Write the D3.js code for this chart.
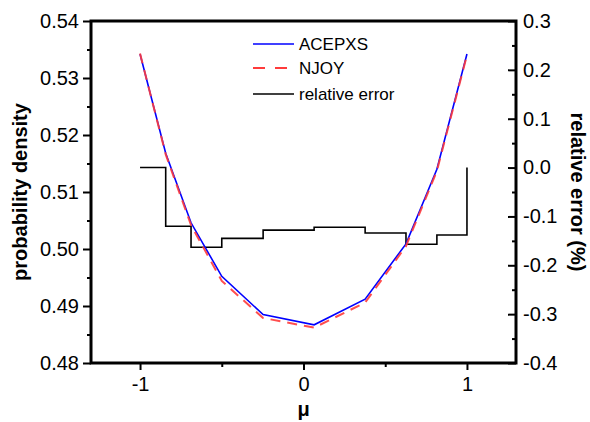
<!DOCTYPE html>
<html lang="en">
<head>
    <meta charset="UTF-8">
    <title>ACEPXS vs NJOY</title>
    <script src="https://d3js.org/d3.v7.min.js"></script>
    <style>
        body { margin: 0; background: #fff; }
        text { font-family: Arial, "Liberation Sans", sans-serif; }
        .axis text { font-size: 20px; fill: #000; }
        .axis path, .axis line { stroke: #000; }
        .title { font-size: 20px; font-weight: bold; }
        .legend { font-size: 17px; }
    </style>
</head>
<body>
<div id="fig"></div>
<script>
    // cosine nodes (mu)
    let mu = [-1, -0.843, -0.688, -0.5, -0.247, 0.065, 0.377, 0.627, 0.816, 1]
    let acepxs = [0.5342, 0.5168, 0.5046, 0.4952, 0.4885, 0.4867, 0.4912, 0.5009, 0.5140, 0.5342]
    let njoy = [0.5343, 0.5166, 0.5042, 0.4944, 0.4879, 0.4862, 0.4906, 0.5005, 0.5137, 0.5340]
    // relative error (%) for each step, last one closes at mu = 1
    let relErr = [0.0, -0.12, -0.163, -0.145, -0.128, -0.122, -0.134, -0.157, -0.138, 0.0]

    let xTicks = [-1, 0, 1]
    let xMinor = [-0.5, 0.5]
    let leftTicks = [0.48, 0.49, 0.50, 0.51, 0.52, 0.53, 0.54]
    let leftMinor = [0.485, 0.495, 0.505, 0.515, 0.525, 0.535]
    let rightTicks = [-0.4, -0.3, -0.2, -0.1, 0.0, 0.1, 0.2, 0.3]
    let rightMinor = [-0.35, -0.25, -0.15, -0.05, 0.05, 0.15, 0.25]

    let W = 590, H = 422
    let mLeft = 91, mRight = 516, mTop = 21, mBottom = 363

    let svg = d3.select("#fig").append("svg")
        .attr("width", W).attr("height", H)

    let x = d3.scaleLinear().domain([-1.3, 1.3]).range([mLeft, mRight])
    let yL = d3.scaleLinear().domain([0.48, 0.54]).range([mBottom, mTop])
    let yR = d3.scaleLinear().domain([-0.4, 0.3]).range([mBottom, mTop])

    // relative error steps
    let errLine = d3.line()
        .x((d, i) => x(mu[i]))
        .y(d => yR(d))
        .curve(d3.curveStepAfter)
    svg.append("path").datum(relErr)
        .attr("d", errLine)
        .attr("fill", "none").attr("stroke", "#000").attr("stroke-width", 1.6)

    let lineL = d3.line().x((d, i) => x(mu[i])).y(d => yL(d))

    svg.append("path").datum(acepxs)
        .attr("d", lineL)
        .attr("fill", "none").attr("stroke", "#0000ff").attr("stroke-width", 1.6)

    svg.append("path").datum(njoy)
        .attr("d", lineL)
        .attr("fill", "none").attr("stroke", "#ff3b3b").attr("stroke-width", 2)
        .attr("stroke-dasharray", "10,7").attr("opacity", 0.9)

    //////////////////////// axes
    function styleAxis(g) {
        g.attr("class", "axis")
        g.select(".domain").remove()
        g.selectAll(".tick line").attr("stroke-width", 2)
        return g
    }

    svg.append("g").attr("transform", `translate(0,${mBottom})`)
        .call(d3.axisBottom(x).tickValues(xTicks).tickSize(7).tickPadding(7).tickFormat(d => String(d)))
        .call(styleAxis)
    svg.append("g").attr("transform", `translate(0,${mBottom})`)
        .call(d3.axisBottom(x).tickValues(xMinor).tickSize(4).tickFormat(""))
        .call(styleAxis)

    svg.append("g").attr("transform", `translate(${mLeft},0)`)
        .call(d3.axisLeft(yL).tickValues(leftTicks).tickSize(8).tickPadding(4).tickFormat(d => d.toFixed(2)))
        .call(styleAxis)
    svg.append("g").attr("transform", `translate(${mLeft},0)`)
        .call(d3.axisLeft(yL).tickValues(leftMinor).tickSize(4).tickFormat(""))
        .call(styleAxis)

    svg.append("g").attr("transform", `translate(${mRight},0)`)
        .call(d3.axisRight(yR).tickValues(rightTicks).tickSize(-8).tickPadding(7)
            .tickFormat(d => d.toFixed(1)))
        .call(styleAxis)
    svg.append("g").attr("transform", `translate(${mRight},0)`)
        .call(d3.axisRight(yR).tickValues(rightMinor).tickSize(-4).tickFormat(""))
        .call(styleAxis)

    // frame
    svg.append("rect")
        .attr("x", mLeft).attr("y", mTop)
        .attr("width", mRight - mLeft).attr("height", mBottom - mTop)
        .attr("fill", "none").attr("stroke", "#000").attr("stroke-width", 3)

    // axis titles
    svg.append("text").attr("class", "title")
        .attr("transform", `translate(27,${(mTop + mBottom) / 2}) rotate(-90)`)
        .attr("text-anchor", "middle")
        .text("probability density")
    svg.append("text").attr("class", "title")
        .attr("transform", `translate(571,${(mTop + mBottom) / 2}) rotate(90)`)
        .attr("text-anchor", "middle")
        .text("relative error (%)")
    svg.append("text").attr("class", "title")
        .attr("x", x(0)).attr("y", 416)
        .attr("text-anchor", "middle")
        .text("\u03bc")

    //////////////////////// legend
    let legend = [
        {name: "ACEPXS", color: "#0000ff", dash: null, w: 1.6},
        {name: "NJOY", color: "#ff3b3b", dash: "12,10", w: 2},
        {name: "relative error", color: "#000", dash: null, w: 1.6}
    ]
    let legY = [44, 68, 94]
    legend.forEach(function (d, i) {
        svg.append("line")
            .attr("x1", 253).attr("x2", 294)
            .attr("y1", legY[i]).attr("y2", legY[i])
            .attr("stroke", d.color).attr("stroke-width", d.w)
            .attr("stroke-dasharray", d.dash)
        svg.append("text").attr("class", "legend")
            .attr("x", 299).attr("y", legY[i]).attr("dy", "0.35em")
            .text(d.name)
    })
</script>
</body>
</html>
